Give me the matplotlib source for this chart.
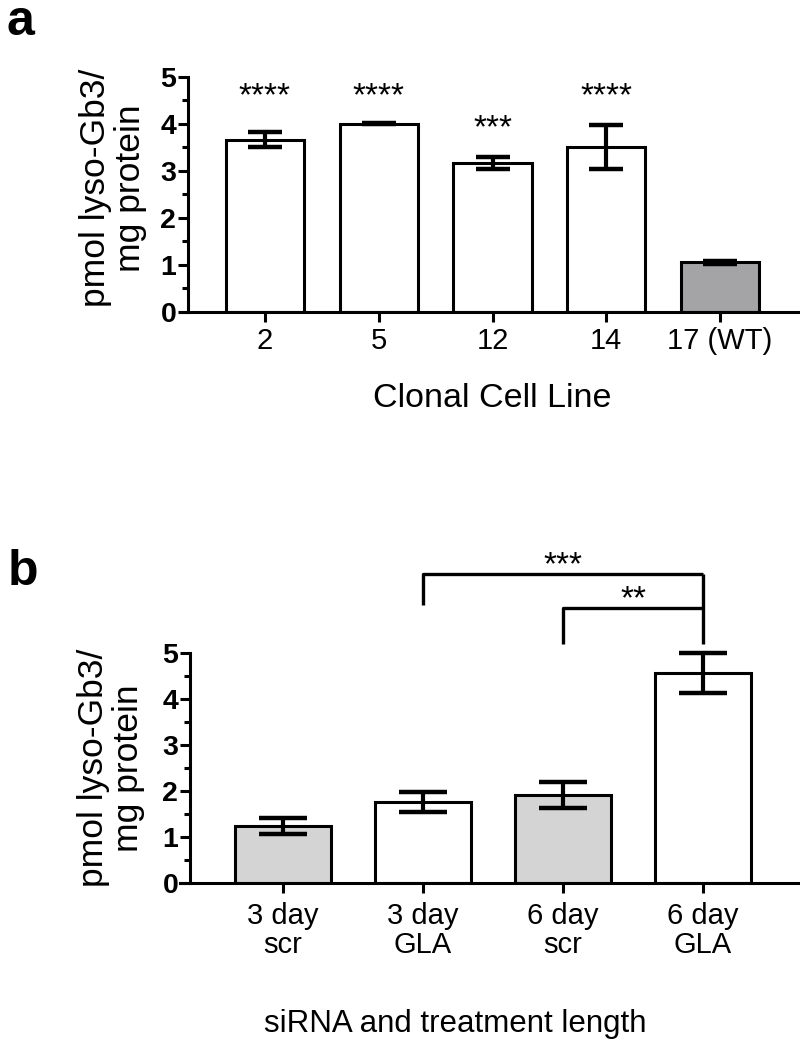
import numpy as np
import matplotlib
matplotlib.use("Agg")
import matplotlib.pyplot as plt

plt.rcParams['font.family'] = ['Liberation Sans', 'DejaVu Sans']

# ---- panel a: lyso-Gb3 per clonal line ----
clone_labels = ['2', '5', '12', '14', '17 (WT)']
clone_means = [3.66, 4.01, 3.17, 3.51, 1.06]
clone_errs = [0.16, 0.02, 0.13, 0.46, 0.03]
clone_stars = ['****', '****', '***', '****', '']
clone_fill = ['white', 'white', 'white', 'white', '#a4a4a7']

# ---- panel b: siRNA knock-down ----
sirna_labels = ['3 day\nscr', '3 day\nGLA', '6 day\nscr', '6 day\nGLA']
sirna_means = [1.24, 1.76, 1.91, 4.56]
sirna_errs = [0.18, 0.22, 0.29, 0.44]
sirna_fill = ['#d4d4d4', 'white', '#d4d4d4', 'white']
# (left bar, right bar, label), innermost first
comparisons = [(2, 3, '**'), (1, 3, '***')]

W, H = 800, 1048
fig = plt.figure(figsize=(W / 100, H / 100), dpi=100)


def px_axes(left, right, top, bottom):
    # axes box given in pixel coords of the final image
    return fig.add_axes([left / W, 1 - bottom / H, (right - left) / W, (bottom - top) / H])


def style_axes(ax, spine_off):
    ax.spines['top'].set_visible(False)
    ax.spines['right'].set_visible(False)
    ax.spines['left'].set_position(('axes', spine_off))
    ax.spines['left'].set_bounds(0, 5)
    for s in ['left', 'bottom']:
        ax.spines[s].set_linewidth(2.2)
    ax.set_yticks(range(6))
    ax.set_yticks(np.arange(0.5, 5, 1), minor=True)
    ax.tick_params(axis='y', which='major', length=7, width=2.2, labelsize=20.5, pad=1.5)
    ax.tick_params(axis='y', which='minor', length=4.5, width=2.2)
    ax.tick_params(axis='x', length=7, width=2.2, labelsize=21, pad=4)
    for lbl in ax.get_yticklabels():
        lbl.set_fontweight('bold')


def draw_bars(ax, means, errs, fills, capsize):
    x = np.arange(len(means))
    ax.bar(x, means, width=0.686, color=fills, edgecolor='black', linewidth=2.2, zorder=2)
    ax.errorbar(x, means, yerr=errs, fmt='none', ecolor='black', elinewidth=3,
                capsize=capsize, capthick=3.2, zorder=3)
    return x


# ================= panel a =================
ax_a = px_axes(180, 800, 77, 312)
ax_a.set_xlim(-0.747, 4.703)
ax_a.set_ylim(0, 5)
xa = draw_bars(ax_a, clone_means, clone_errs, clone_fill, 12)
ax_a.set_xticks(xa)
ax_a.set_xticklabels(clone_labels)
style_axes(ax_a, 8 / 620)

# the **** marks share one level, others sit above their own bar
tops = [m + e for m, e in zip(clone_means, clone_errs)]
four_level = max(t for t, s in zip(tops, clone_stars) if s == '****')
for i, s in enumerate(clone_stars):
    if not s:
        continue
    y = (four_level + 0.36) if s == '****' else (tops[i] + 0.41)
    ax_a.text(xa[i], y, s, ha='center', va='baseline', fontsize=24)

ax_a.set_xlabel('Clonal Cell Line', fontsize=24.5)
ax_a.xaxis.set_label_coords(0.503, -0.303)
ax_a.text(-0.108, 0.528, 'pmol lyso-Gb3/\nmg protein', transform=ax_a.transAxes,
          rotation=90, ha='center', va='center', fontsize=25.5, linespacing=1.1)

# ================= panel b =================
ax_b = px_axes(180, 800, 883 - 7.4 * 46, 883)
ax_b.set_xlim(-0.736, 3.693)
ax_b.set_ylim(0, 7.4)
xb = draw_bars(ax_b, sirna_means, sirna_errs, sirna_fill, 17)
ax_b.set_xticks(xb)
ax_b.set_xticklabels(sirna_labels)
style_axes(ax_b, 10 / 620)
ax_b.tick_params(axis='x', pad=7)
for lbl in ax_b.get_xticklabels():
    lbl.set_linespacing(1.02)

# significance brackets
base = max(m + e for m, e in zip(sirna_means, sirna_errs)) + 0.2
prev = base
for k, (i, j, s) in enumerate(comparisons):
    yb = base + 0.78 + 0.74 * k
    left_bottom = base if k == 0 else prev + 0.06
    ax_b.plot([xb[i], xb[i], xb[j]], [left_bottom, yb, yb], color='black',
              lw=2.4, solid_capstyle='butt', clip_on=False)
    ax_b.text((xb[i] + xb[j]) / 2, yb, s, ha='center', va='baseline', fontsize=24)
    prev = yb
ax_b.plot([xb[comparisons[0][1]]] * 2, [base, prev], color='black', lw=2.4,
          solid_capstyle='butt', clip_on=False)

ax_b.set_xlabel('siRNA and treatment length', fontsize=22.5)
ax_b.xaxis.set_label_coords(0.444, -0.37)
ax_b.text(-0.111, 2.5 / 7.4, 'pmol lyso-Gb3/\nmg protein', transform=ax_b.transAxes,
          rotation=90, ha='center', va='center', fontsize=25.5, linespacing=1.1)

# panel letters
fig.text(7 / W, 1 - 35 / H, 'a', fontsize=36, fontweight='bold', va='baseline')
fig.text(8 / W, 1 - 585 / H, 'b', fontsize=36, fontweight='bold', va='baseline')

fig.savefig('out.png', dpi=100)
